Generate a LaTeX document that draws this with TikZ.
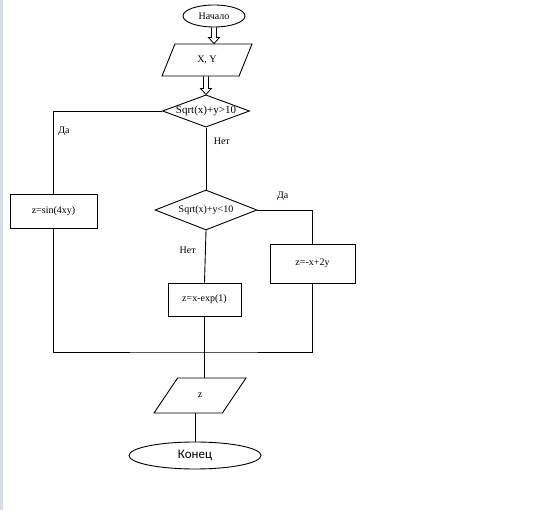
\documentclass[tikz,border=0pt]{standalone}
\usepackage{fontspec}
\setmainfont{Liberation Serif}
\newfontfamily\endfont{Carlito}
\usetikzlibrary{shapes.geometric,calc}

\definecolor{edgeblue}{HTML}{D6DEE8}

% hollow block arrow from #1 down to #2
\newcommand{\hollowarrow}[2]{%
  \draw[line width=0.8pt,line join=miter]
    ($(#1)+(-2.5,0)$) -- ($(#2)+(-2.5,-6)$) -- ($(#2)+(-5.5,-6)$) -- (#2)
    -- ($(#2)+(5.5,-6)$) -- ($(#2)+(2.5,-6)$) -- ($(#1)+(2.5,0)$);}

\begin{document}
\begin{tikzpicture}[
  x=1pt, y=-1pt,
  font=\fontsize{10}{12}\selectfont,
  every node/.style={align=center},
  terminal/.style={draw,line width=0.9pt,ellipse,inner sep=0pt},
  io/.style={draw,line width=0.9pt,trapezium,trapezium stretches body,
    text height=7pt,text depth=2pt,inner xsep=0pt},
  decision/.style={draw,line width=0.9pt,diamond,aspect=2.7,inner sep=0pt},
  process/.style={draw,line width=0.9pt,rectangle,inner sep=0pt},
  flow/.style={line width=0.9pt}]

  % Page and the thin strip on the left edge
  \fill[white] (0,0) rectangle (542,510);
  \fill[edgeblue] (0,0) rectangle (3,510);
  \useasboundingbox (0,0) rectangle (542,510);

  % Blocks of the scheme
  \node[terminal,minimum width=62,minimum height=22] (start) at (214,16) {Начало};
  \node[io,trapezium left angle=68,trapezium right angle=112,
        inner ysep=11.5pt,minimum width=90] (input) at (207,60) {X, Y};
  \node[decision,minimum width=86,minimum height=32,font=\fontsize{11}{12}\selectfont]
        (cond1) at (206,111) {Sqrt(x)+y>10};
  \node[process,minimum width=87,minimum height=34] (sinbox) at (53.5,211) {z=sin(4xy)};
  \node[decision,minimum width=102,minimum height=40] (cond2) at (206,210) {Sqrt(x)+y<10};
  \node[process,minimum width=85,minimum height=39] (linbox) at (312.5,263.5) {z=-x+2y};
  \node[process,minimum width=73,minimum height=33] (expbox) at (204.5,299.5) {z=x-exp(1)};
  \node[io,trapezium left angle=56,trapezium right angle=124,
        inner ysep=13pt,minimum width=92] (output) at (200,395.5) {z};
  \node[terminal,minimum width=132,minimum height=27,font=\endfont\fontsize{13}{14}\selectfont]
        (finish) at (195,455.5) {Конец};
  \coordinate (join) at (204.5,352);
  \coordinate (inputtop) at (start.south |- input.north);
  \coordinate (inputbot) at (input.south -| cond1.north);

  % Connectors
  \hollowarrow{start.south}{inputtop}
  \hollowarrow{inputbot}{cond1.north}
  \draw[flow] (cond1.west) -| node[pos=0.62,right=1pt] {Да} (sinbox.north);
  \draw[flow] (cond1.south) -- node[pos=0.22,right=4pt] {Нет} (cond2.north);
  \draw[flow] (cond2.east) -| node[pos=0.23,above=6pt] {Да} (linbox.north);
  \draw[flow] (cond2.south) -- node[pos=0.38,left=6pt] {Нет} (expbox.north);
  \draw[flow] (sinbox.south) |- (join) -| (linbox.south);
  \draw[flow] (expbox.south) -- (expbox.south |- output.north);
  \draw[flow] (finish.north |- output.south) -- (finish.north);
\end{tikzpicture}
\end{document}
